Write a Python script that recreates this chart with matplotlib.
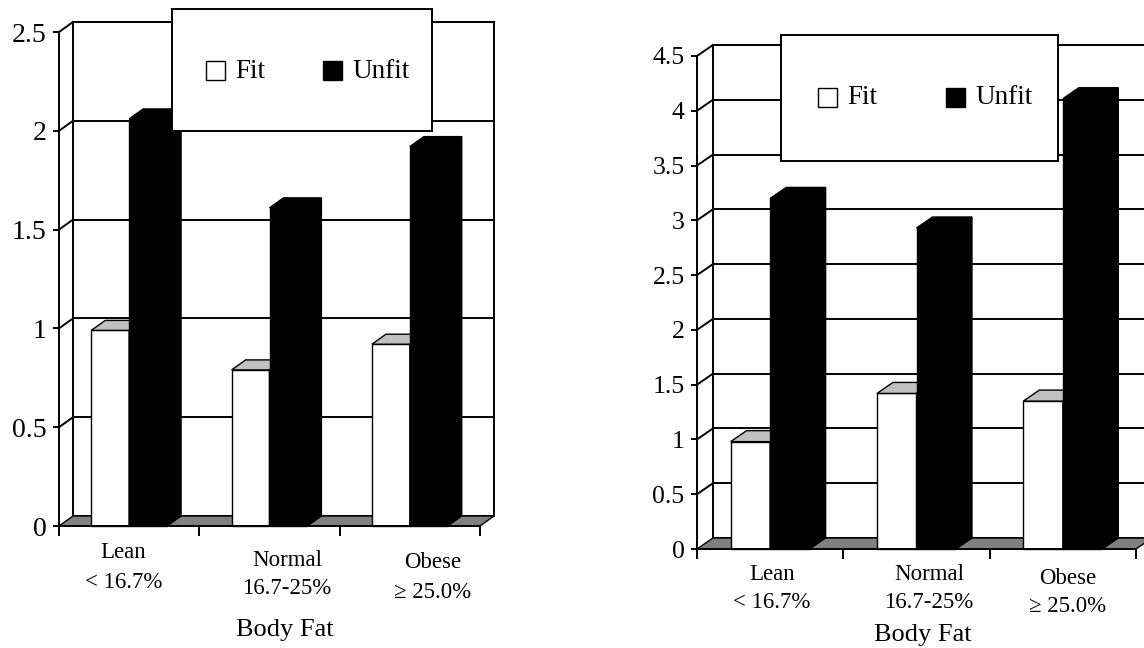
import matplotlib
matplotlib.use('Agg')
import matplotlib.pyplot as plt
from matplotlib.patches import Polygon, Rectangle

plt.rcParams['font.family'] = ['Liberation Serif', 'DejaVu Serif']

categories = ['Lean\n< 16.7%', 'Normal\n16.7-25%', 'Obese\n≥ 25.0%']
series = ['Fit', 'Unfit']
xlabel = 'Body Fat'

left_fit = [0.99, 0.79, 0.92]
left_unfit = [2.06, 1.61, 1.92]
left_ticks = [0, 0.5, 1, 1.5, 2, 2.5]

right_fit = [0.98, 1.42, 1.35]
right_unfit = [3.20, 2.93, 4.11]
right_ticks = [0, 0.5, 1, 1.5, 2, 2.5, 3, 3.5, 4, 4.5]

W = 0.27          # bar width in category units
LW = 1.4
PX = 0.72         # points per pixel at dpi 100


def draw_bar3d(ax, x, w, v, dx, dy, top, side, z):
    ax.add_patch(Polygon([(x, v), (x + w, v), (x + w + dx, v + dy), (x + dx, v + dy)],
                         closed=True, fc=top, ec='black', lw=1, zorder=z, clip_on=False))
    ax.add_patch(Polygon([(x + w, 0), (x + w + dx, dy), (x + w + dx, v + dy), (x + w, v)],
                         closed=True, fc=side, ec='black', lw=1, zorder=z, clip_on=False))


def draw_panel(ax, fit, unfit, ticks, dx, dy, ysize, lab_x, lab_drop, xl_pos):
    n = len(categories)
    x0, x1 = -0.5, n - 0.5
    ymax = ticks[-1]
    ax.set_xlim(x0, x1)
    ax.set_ylim(0, ymax)
    ax.set_facecolor('none')

    # back wall with its gridlines
    ax.add_patch(Polygon([(x0 + dx, dy), (x1 + dx, dy), (x1 + dx, ymax + dy), (x0 + dx, ymax + dy)],
                         closed=True, fc='white', ec='black', lw=LW, zorder=0.5, clip_on=False))
    for t in ticks[1:]:
        ax.plot([x0 + dx, x1 + dx], [t + dy, t + dy], color='black', lw=LW, zorder=1, clip_on=False)
        ax.plot([x0, x0 + dx], [t, t + dy], color='black', lw=LW, zorder=1, clip_on=False)

    # floor
    ax.add_patch(Polygon([(x0, 0), (x1, 0), (x1 + dx, dy), (x0 + dx, dy)],
                         closed=True, fc='#808080', ec='black', lw=1, zorder=2, clip_on=False))

    idx = list(range(n))
    ax.bar([i - W for i in idx], fit, width=W, align='edge', color='white',
           edgecolor='black', lw=1, zorder=3, clip_on=False)
    for i in idx:
        draw_bar3d(ax, i - W, W, fit[i], dx, dy, '#c0c0c0', 'white', 3)
    ax.bar(idx, unfit, width=W, align='edge', color='black',
           edgecolor='black', lw=1, zorder=4, clip_on=False)
    for i in idx:
        draw_bar3d(ax, i, W, unfit[i], dx, dy, 'black', 'black', 4)

    for s in ['top', 'right']:
        ax.spines[s].set_visible(False)
    for s in ['left', 'bottom']:
        ax.spines[s].set_linewidth(LW)
        ax.spines[s].set_zorder(5)

    ax.set_yticks(ticks)
    ax.set_yticklabels([f'{t:g}' for t in ticks])
    ax.tick_params(axis='y', direction='out', length=4, width=LW, labelsize=ysize, pad=5)
    ax.set_xticks([x0 + k for k in range(n + 1)])
    ax.set_xticklabels([])
    ax.tick_params(axis='x', direction='out', length=7, width=LW)

    for i, lab in enumerate(categories):
        for line, drop in zip(lab.split('\n'), lab_drop[i]):
            ax.annotate(line, xy=(lab_x[i], 0), xytext=(0, -drop * PX), textcoords='offset points',
                        ha='center', va='center', fontsize=16.5)
    ax.annotate(xlabel, xy=(xl_pos[0], 0), xytext=(0, -xl_pos[1] * PX), textcoords='offset points',
                ha='center', va='center', fontsize=19)


def draw_legend(fig, box_px, sq, fit_x, unfit_x, yc, size=19.5):
    fw, fh = 1144, 648
    l, t, w, h = box_px
    lg = fig.add_axes([l / fw, (fh - t - h) / fh, w / fw, h / fh])
    lg.set_xlim(0, w)
    lg.set_ylim(h, 0)
    lg.set_xticks([])
    lg.set_yticks([])
    for s in lg.spines.values():
        s.set_linewidth(LW)
    for x, name, fc in [(fit_x, series[0], 'white'), (unfit_x, series[1], 'black')]:
        lg.add_patch(Rectangle((x, yc - sq / 2), sq, sq, fc=fc, ec='black', lw=1))
        lg.text(x + sq + 10, yc + 1, name, ha='left', va='center', fontsize=size)


fig = plt.figure(figsize=(11.44, 6.48), dpi=100)

ax1 = fig.add_axes([59 / 1144, (648 - 526) / 648, 421 / 1144, 494 / 648])
draw_panel(ax1, left_fit, left_unfit, left_ticks, 0.0998, 0.0506, 20,
           [-0.04, 1.125, 2.165], [(27, 57), (34, 62), (37, 66)], (1.111, 104))

ax2 = fig.add_axes([697 / 1144, (648 - 549) / 648, 439 / 1144, 493 / 648])
draw_panel(ax2, right_fit, right_unfit, right_ticks, 0.109, 0.1004, 18.5,
           [0.013, 1.086, 2.03], [(26, 53), (26, 53), (29, 57)], (1.045, 86))

draw_legend(fig, (172, 9, 260, 122), 19, 34, 151, 61)
draw_legend(fig, (781, 35, 277, 126), 19, 37, 165, 62)

fig.savefig('out.png', dpi=100)
